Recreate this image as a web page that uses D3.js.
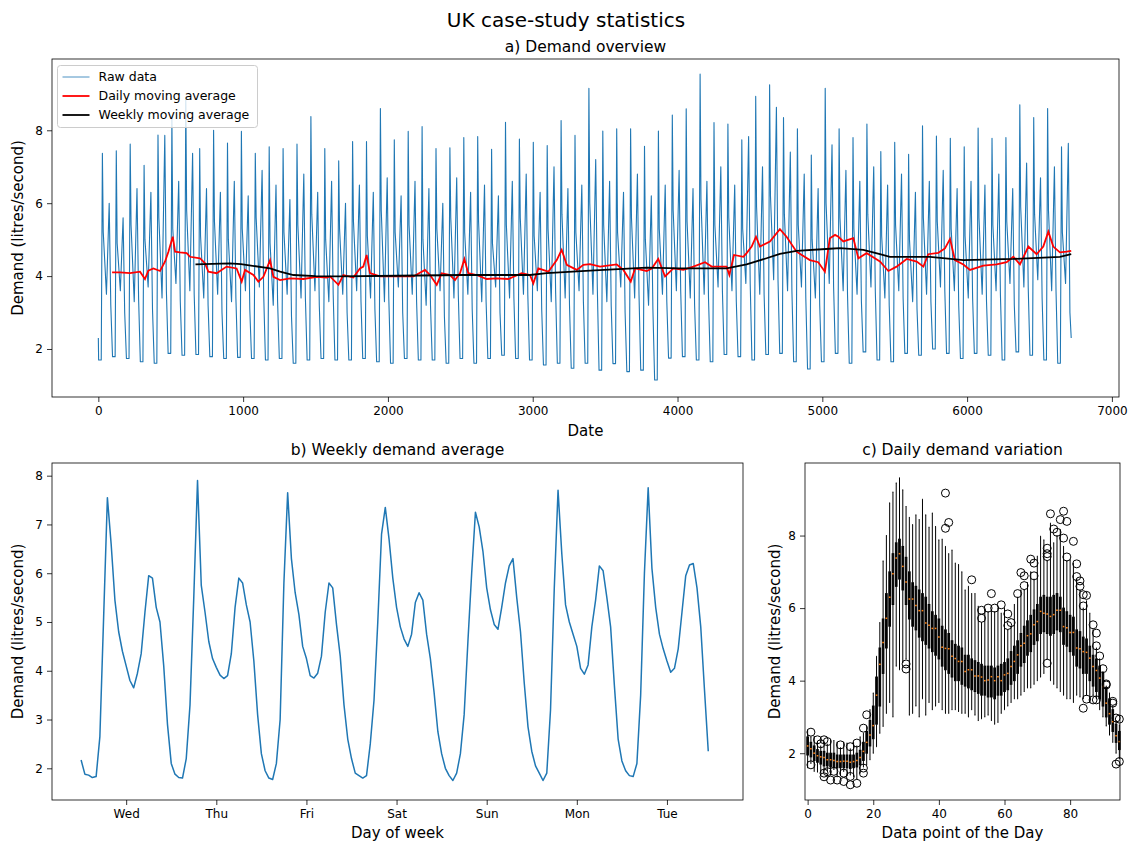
<!DOCTYPE html>
<html>
<head>
<meta charset="utf-8">
<script src="https://cdn.jsdelivr.net/npm/d3@7"></script>
<style>
  body { margin: 0; background: #fff; }
  svg text { font-family: "DejaVu Sans", sans-serif; fill: #000; }
</style>
</head>
<body>
<svg id="canvas" width="1130" height="843"></svg>
<script>
"use strict"

/* ===== a) raw data, one value per day for each feature (70 days, 96 readings per day) ===== */
const morningPeak = [
    7.37, 7.44, 7.62, 7.04, 7.87, 8.38, 8.88, 7.50, 8.00, 7.65,
    7.97, 7.37, 7.55, 7.50, 7.62, 8.38, 7.50, 7.16, 7.69, 7.69,
    8.60, 7.74, 7.97, 8.10, 7.50, 7.52, 7.80, 7.83, 7.48, 8.22,
    7.76, 7.67, 7.58, 8.27, 7.86, 9.15, 7.98, 8.04, 8.04, 7.56,
    7.98, 8.42, 8.59, 9.54, 8.21, 8.17, 7.74, 8.93, 9.25, 8.35,
    8.04, 7.32, 9.15, 8.04, 7.80, 8.17, 7.42, 7.67, 7.34, 8.12,
    7.84, 7.78, 7.55, 8.06, 7.78, 7.80, 8.70, 8.35, 8.60, 7.55];
const morningShoulder = [
    5.2, 4.9, 5.4, 5.0, 5.6, 5.3, 5.8, 5.1, 5.5, 5.0,
    5.3, 5.6, 4.9, 5.2, 5.4, 5.7, 5.0, 5.3, 5.5, 5.1,
    5.8, 5.2, 5.4, 5.0, 5.3, 5.6, 5.2, 5.5, 4.9, 5.4,
    5.6, 5.1, 5.3, 5.7, 5.2, 6.0, 5.4, 5.2, 5.6, 5.0,
    5.3, 5.8, 5.5, 6.1, 5.4, 5.6, 5.3, 5.9, 6.2, 5.7,
    5.4, 5.0, 6.0, 5.6, 5.3, 5.7, 5.1, 5.4, 5.0, 5.6,
    5.5, 5.3, 5.1, 5.6, 5.4, 5.5, 5.9, 5.7, 5.8, 5.2];
const middayLow = [
    3.5, 3.6, 3.3, 3.7, 3.4, 3.8, 3.6, 3.4, 3.5, 3.3,
    3.6, 3.7, 3.2, 3.5, 3.4, 3.6, 3.3, 3.5, 3.6, 3.4,
    3.3, 3.7, 3.5, 3.2, 3.6, 3.4, 3.5, 3.3, 3.7, 3.4,
    3.5, 3.6, 3.3, 3.4, 3.6, 3.5, 3.3, 3.7, 3.4, 3.2,
    3.5, 3.6, 3.4, 3.5, 3.7, 3.6, 3.8, 3.5, 3.9, 3.6,
    3.7, 3.4, 3.8, 3.6, 3.5, 3.7, 3.4, 3.6, 3.3, 3.5,
    3.7, 3.6, 3.4, 3.5, 3.6, 3.8, 3.7, 3.9, 3.6, 3.8];
const eveningPeak = [
    6.0, 5.6, 6.4, 6.3, 7.86, 6.6, 7.37, 6.4, 6.3, 6.6,
    6.2, 6.9, 6.5, 6.1, 6.8, 6.3, 6.6, 6.0, 6.5, 6.3,
    6.7, 6.2, 6.6, 6.4, 6.0, 6.7, 6.3, 6.5, 6.2, 6.6,
    6.8, 6.3, 7.0, 6.4, 6.5, 7.2, 6.6, 6.3, 6.8, 6.2,
    6.5, 6.9, 6.4, 6.6, 7.0, 6.5, 7.83, 7.0, 8.63, 7.4,
    6.8, 6.4, 7.6, 6.9, 6.6, 7.0, 6.5, 6.8, 6.3, 6.6,
    6.9, 6.4, 6.6, 6.5, 6.8, 6.4, 7.1, 6.7, 7.0, 7.64];
const lateEvening = [
    3.2, 3.0, 3.4, 3.1, 3.6, 3.3, 3.5, 3.2, 3.0, 3.4,
    3.1, 3.5, 3.3, 2.9, 3.4, 3.2, 3.5, 3.0, 3.3, 3.1,
    3.4, 3.0, 3.3, 3.2, 2.9, 3.5, 3.1, 3.3, 3.0, 3.4,
    3.5, 3.1, 3.6, 3.2, 3.3, 3.7, 3.2, 3.0, 3.5, 3.1,
    3.3, 3.6, 3.2, 3.4, 3.6, 3.3, 3.8, 3.5, 3.9, 3.6,
    3.4, 3.2, 3.7, 3.5, 3.3, 3.6, 3.2, 3.4, 3.1, 3.3,
    3.6, 3.2, 3.4, 3.3, 3.5, 3.2, 3.7, 3.4, 3.6, 3.0];
const nightLow = [
    1.70, 1.79, 1.74, 1.65, 1.61, 1.88, 1.83, 1.85, 1.79, 1.74,
    1.77, 1.74, 1.70, 1.74, 1.61, 1.70, 1.74, 1.70, 1.70, 1.74,
    1.65, 1.61, 1.74, 1.70, 1.70, 1.61, 1.74, 1.61, 1.74, 1.83,
    1.74, 1.70, 1.56, 1.61, 1.47, 1.61, 1.42, 1.60, 1.38, 1.42,
    1.15, 1.75, 1.79, 1.70, 1.65, 1.85, 1.79, 1.70, 1.85, 1.88,
    1.65, 1.45, 1.65, 1.88, 1.61, 1.92, 1.70, 1.65, 1.88, 1.83,
    2.00, 1.88, 1.74, 1.88, 1.83, 1.70, 1.92, 1.83, 1.70, 1.61];
const rawFirstValue = 2.3;
const rawLastValue = 2.3;

/* moving averages, read at sample positions (index of the reading) */
const dailyAvgIdx = [95, 150, 219, 288, 322, 345, 380, 426, 461, 484, 514, 530, 564, 610, 633, 702, 737, 760, 817, 886,
    955, 990, 1013, 1071, 1105, 1140, 1186, 1209, 1255, 1324, 1416, 1508, 1577, 1600, 1658, 1692, 1761, 1807, 1830, 1853,
    1876, 1945, 2060, 2176, 2256, 2291, 2337, 2371, 2429, 2463, 2498, 2528, 2555, 2612, 2682, 2750, 2831, 2923, 2981, 3004,
    3039, 3108, 3166, 3200, 3235, 3304, 3350, 3396, 3465, 3580, 3626, 3677, 3707, 3787, 3822, 3867, 3914, 3971, 4040, 4109,
    4190, 4236, 4339, 4358, 4390, 4455, 4477, 4512, 4542, 4569, 4638, 4707, 4753, 4822, 4914, 4972, 5018, 5052, 5088, 5111,
    5145, 5214, 5249, 5306, 5398, 5456, 5513, 5583, 5652, 5698, 5732, 5801, 5847, 5882, 5916, 5974, 6020, 6112, 6204, 6273,
    6319, 6365, 6423, 6480, 6526, 6561, 6595, 6641, 6687, 6719];
const dailyAvgVal = [4.10, 4.10, 4.08, 4.12, 3.92, 4.15, 4.21, 4.14, 4.40, 4.67, 5.08, 4.67, 4.65, 4.63, 4.53, 4.49, 4.35, 4.12, 4.08, 4.26,
    4.21, 3.85, 4.17, 4.03, 3.85, 3.98, 4.44, 3.98, 3.89, 3.94, 3.92, 3.98, 3.96, 3.99, 3.76, 4.03, 3.96, 4.21, 4.26, 4.58,
    4.08, 3.99, 3.99, 3.99, 4.17, 4.03, 3.76, 4.08, 4.03, 3.89, 4.08, 4.47, 4.08, 4.03, 3.92, 3.94, 3.92, 4.08, 4.03, 3.80,
    4.21, 4.12, 4.44, 4.72, 4.31, 4.17, 4.31, 4.33, 4.26, 4.32, 4.17, 3.85, 4.21, 4.14, 4.21, 4.47, 3.99, 4.21, 4.17, 4.26,
    4.38, 4.26, 4.26, 4.03, 4.58, 4.53, 4.63, 4.81, 5.08, 4.81, 4.95, 5.29, 5.08, 4.67, 4.44, 4.38, 4.12, 5.04, 5.13, 5.08,
    4.95, 5.04, 4.49, 4.63, 4.40, 4.14, 4.26, 4.47, 4.40, 4.26, 4.60, 4.64, 4.76, 5.02, 4.44, 4.32, 4.17, 4.29, 4.32, 4.38,
    4.53, 4.32, 4.81, 4.60, 4.81, 5.22, 4.81, 4.65, 4.67, 4.69];
const weeklyAvgIdx = [671, 908, 985, 1186, 1255, 1347, 1500, 1669, 2060, 2521, 2981, 3097, 3396, 3787, 4017,
    4339, 4477, 4615, 4707, 4822, 5052, 5122, 5283, 5398, 5467, 5744, 5974, 6319, 6641, 6719];
const weeklyAvgVal = [4.32, 4.35, 4.33, 4.21, 4.12, 4.03, 4.00, 3.99, 4.01, 4.03, 4.03, 4.08, 4.15, 4.23, 4.21,
    4.21, 4.32, 4.49, 4.61, 4.69, 4.75, 4.77, 4.72, 4.60, 4.53, 4.53, 4.44, 4.47, 4.53, 4.60];
const xTicksA = [0, 1000, 2000, 3000, 4000, 5000, 6000, 7000];
const yTicksA = [2, 4, 6, 8];

/* ===== b) weekly demand average, hourly values Wed..Tue ===== */
const weekDays = ["Wed", "Thu", "Fri", "Sat", "Sun", "Mon", "Tue"];
const weeklyProfile = [
    2.17, 1.88, 1.86, 1.81, 1.83, 2.65, 5.10, 7.55, 6.60, 5.45, 4.80, 4.40, 4.10, 3.80, 3.65, 3.95, 4.35, 5.20, 5.95, 5.90, 5.30, 5.00, 4.10, 2.90,
    2.10, 1.88, 1.81, 1.80, 2.20, 3.30, 5.50, 7.90, 5.75, 5.20, 4.60, 4.25, 4.07, 3.91, 3.84, 3.90, 4.35, 5.30, 5.90, 5.80, 5.35, 5.00, 4.20, 3.10,
    2.30, 1.95, 1.80, 1.77, 2.10, 3.00, 5.80, 7.65, 6.30, 5.60, 5.15, 4.50, 4.25, 3.90, 3.85, 3.95, 4.30, 5.20, 5.80, 5.70, 4.95, 4.30, 3.30, 2.60,
    2.20, 1.90, 1.85, 1.80, 1.85, 2.50, 3.40, 5.00, 6.80, 7.35, 6.70, 5.90, 5.30, 4.90, 4.65, 4.50, 4.75, 5.40, 5.60, 5.45, 4.75, 4.25, 3.55, 2.75,
    2.30, 2.00, 1.85, 1.75, 1.90, 2.30, 3.10, 4.60, 6.00, 7.25, 6.95, 6.45, 5.70, 5.25, 4.95, 4.85, 5.30, 5.80, 6.15, 6.30, 5.50, 4.80, 3.75, 2.85,
    2.35, 2.05, 1.90, 1.75, 1.90, 3.20, 5.70, 7.70, 6.40, 5.35, 5.00, 4.75, 4.50, 4.05, 3.93, 4.12, 4.90, 5.45, 6.15, 6.05, 5.50, 4.90, 3.70, 2.60,
    2.15, 1.95, 1.85, 1.83, 2.10, 3.50, 6.00, 7.75, 6.10, 5.30, 4.75, 4.45, 4.20, 3.97, 4.05, 4.45, 5.20, 5.95, 6.17, 6.20, 5.70, 4.90, 3.60, 2.35];
const yTicksB = [2, 3, 4, 5, 6, 7, 8];

/* ===== c) daily demand variation, one box per data point of the day ===== */
const boxMedian = [
    2.20, 2.12, 2.00, 1.93, 1.90, 1.88, 1.82, 1.82, 1.80, 1.77, 1.77, 1.78, 1.78, 1.75, 1.77, 1.80, 1.88, 2.05, 2.30, 2.50,
    2.76, 3.60, 4.45, 5.05, 5.72, 6.30, 6.95, 7.38, 7.50, 7.15, 6.72, 6.25, 6.25, 6.07, 5.93, 5.93, 5.59, 5.53, 5.44, 5.44,
    5.20, 4.92, 4.89, 4.88, 4.67, 4.61, 4.53, 4.53, 4.25, 4.30, 4.30, 4.13, 4.13, 4.10, 4.00, 4.02, 4.11, 4.00, 4.11, 4.00,
    4.16, 4.20, 4.39, 4.53, 4.71, 4.96, 5.03, 5.24, 5.29, 5.54, 5.63, 5.91, 5.86, 5.84, 5.77, 5.82, 5.94, 5.94, 5.49, 5.46,
    5.33, 5.33, 4.90, 4.88, 4.80, 4.78, 4.62, 4.39, 4.28, 4.07, 3.84, 3.38, 3.09, 2.87, 2.48, 2.32];
const boxQ1 = [
    1.95, 1.90, 1.80, 1.75, 1.70, 1.65, 1.65, 1.62, 1.60, 1.60, 1.60, 1.60, 1.60, 1.58, 1.60, 1.62, 1.68, 1.80, 2.00, 2.20,
    2.40, 2.80, 3.30, 4.20, 4.90, 5.50, 6.10, 6.60, 6.80, 6.50, 6.10, 5.70, 5.50, 5.40, 5.20, 5.10, 5.00, 4.90, 4.80, 4.70,
    4.60, 4.40, 4.30, 4.20, 4.10, 4.00, 4.00, 3.90, 3.85, 3.80, 3.75, 3.70, 3.65, 3.60, 3.60, 3.55, 3.55, 3.50, 3.60, 3.60,
    3.70, 3.75, 3.90, 4.00, 4.20, 4.40, 4.50, 4.70, 4.80, 5.00, 5.10, 5.30, 5.35, 5.30, 5.25, 5.30, 5.40, 5.35, 5.00, 4.95,
    4.80, 4.70, 4.40, 4.35, 4.20, 4.20, 4.00, 3.85, 3.70, 3.50, 3.30, 3.00, 2.80, 2.60, 2.30, 2.10];
const boxQ3 = [
    2.45, 2.30, 2.20, 2.10, 2.05, 2.05, 2.00, 2.00, 2.00, 1.95, 1.95, 1.95, 1.95, 1.95, 1.95, 2.00, 2.08, 2.30, 2.60, 2.90,
    3.30, 4.10, 4.90, 5.70, 6.40, 7.00, 7.50, 7.80, 7.90, 7.70, 7.40, 7.00, 6.70, 6.60, 6.50, 6.40, 6.30, 6.10, 5.90, 5.80,
    5.70, 5.50, 5.40, 5.30, 5.10, 5.00, 4.95, 4.90, 4.70, 4.70, 4.60, 4.55, 4.50, 4.45, 4.40, 4.40, 4.40, 4.35, 4.40, 4.45,
    4.50, 4.60, 4.80, 4.95, 5.10, 5.30, 5.50, 5.65, 5.80, 5.95, 6.10, 6.30, 6.35, 6.30, 6.30, 6.35, 6.40, 6.30, 6.00, 5.90,
    5.80, 5.75, 5.40, 5.35, 5.20, 5.15, 4.95, 4.70, 4.60, 4.40, 4.20, 3.80, 3.50, 3.20, 2.80, 2.60];
const boxWhiskerLow = [
    1.60, 1.72, 1.50, 1.48, 1.45, 1.50, 1.52, 1.40, 1.55, 1.35, 1.40, 1.50, 1.38, 1.40, 1.35, 1.30, 1.45, 1.62, 1.68, 1.82,
    2.00, 2.18, 2.55, 2.74, 3.10, 3.40, 3.00, 4.40, 4.30, 4.50, 4.60, 3.05, 3.10, 3.30, 3.00, 3.50, 3.05, 3.40, 3.20, 3.30,
    3.40, 3.20, 3.10, 3.10, 3.20, 3.20, 3.15, 3.10, 3.10, 3.00, 3.20, 3.05, 2.90, 2.95, 3.00, 3.05, 2.90, 2.80, 2.85, 3.10,
    3.20, 3.30, 3.40, 3.50, 3.50, 3.60, 3.70, 3.80, 3.80, 3.90, 4.00, 4.10, 4.20, 4.60, 4.00, 3.90, 3.80, 3.70, 3.60, 3.50,
    3.50, 3.40, 3.60, 3.55, 3.50, 3.60, 3.40, 3.60, 3.50, 3.20, 3.00, 2.75, 2.50, 2.30, 2.00, 1.85];
const boxWhiskerHigh = [
    2.64, 2.45, 2.46, 2.30, 2.20, 2.30, 2.25, 2.37, 2.35, 2.30, 2.15, 2.30, 2.28, 2.12, 2.30, 2.20, 2.45, 2.55, 2.74, 3.20,
    3.66, 4.67, 5.60, 7.30, 8.00, 8.90, 9.20, 9.45, 9.59, 9.26, 8.80, 8.50, 8.30, 8.57, 8.44, 9.00, 8.57, 8.23, 8.62, 8.25,
    7.88, 7.90, 7.70, 7.50, 7.60, 7.24, 7.20, 7.00, 6.50, 6.60, 6.40, 6.40, 6.05, 5.60, 5.95, 5.90, 5.95, 5.90, 6.00, 5.86,
    6.00, 5.40, 5.50, 6.10, 6.30, 6.50, 6.50, 6.70, 7.00, 6.80, 7.43, 7.98, 7.88, 7.30, 8.34, 7.80, 8.00, 8.16, 7.70, 7.30,
    7.33, 7.24, 6.80, 6.50, 6.00, 6.20, 5.86, 5.40, 4.90, 4.60, 4.25, 3.85, 3.66, 3.30, 2.90, 2.78];
const fliers = [
    [1, 2.58], [1, 1.68], [3, 2.37], [4, 2.26], [5, 2.37], [6, 2.32], [5, 1.45], [5, 1.35], [6, 1.49], [7, 1.26],
    [8, 1.50], [10, 2.23], [9, 1.26], [11, 1.45], [11, 1.22], [13, 2.18], [13, 1.36], [13, 1.13], [15, 2.28], [15, 1.17],
    [17, 1.45], [17, 1.59], [17, 2.69], [18, 3.06], [30, 4.46], [30, 4.32], [42, 9.17], [42, 8.20], [43, 8.36], [50, 6.78],
    [53, 5.94], [53, 5.72], [55, 6.00], [56, 6.40], [57, 6.00], [59, 6.09], [61, 5.84], [61, 5.52], [62, 5.60], [64, 6.40],
    [65, 6.98], [66, 6.89], [66, 6.62], [68, 7.35], [69, 7.24], [69, 6.89], [73, 7.65], [73, 7.50], [73, 7.42], [73, 4.48],
    [74, 8.60], [75, 8.18], [76, 8.09], [77, 8.44], [78, 8.67], [78, 7.93], [79, 8.39], [79, 7.41], [81, 7.84], [82, 7.22],
    [82, 6.87], [83, 6.60], [83, 6.75], [84, 6.37], [84, 6.06], [85, 6.35], [84, 3.24], [85, 3.49], [87, 5.54], [88, 5.31],
    [88, 4.96], [87, 3.47], [88, 3.47], [89, 4.68], [90, 4.33], [91, 3.91], [91, 3.88], [93, 3.38], [93, 3.43], [94, 2.97],
    [94, 1.70], [95, 1.77], [95, 2.94]];
const xTicksC = [0, 20, 40, 60, 80];
const yTicksC = [2, 4, 6, 8];

/* ===== layout ===== */
const slotsPerDay = 96;
const slotsPerHour = 4;
// where within a day (reading number) each daily feature sits
const daySlots = { nightA: 2, nightB: 20, morning: 28, shoulder: 34, midday: 56, evening: 75, late: 86 };
const A = { left: 52, top: 59, width: 1067, height: 338 };
const B = { left: 52, top: 463, width: 691, height: 337 };
const C = { left: 805, top: 463, width: 315, height: 337 };
const blue = "#1f77b4";

let drawing = d3.select("#canvas");

// tidy a d3 axis so it looks like matplotlib ticks
function styleAxis(g) {
    g.select(".domain").remove();
    g.selectAll(".tick line").attr("stroke", "#000").attr("stroke-width", 0.8);
    g.selectAll(".tick text")
        .attr("font-size", 12)
        .attr("font-family", "DejaVu Sans, sans-serif")
        .attr("fill", "#000");
}

function frame(g, box) {
    g.append("rect")
        .attr("x", 0).attr("y", 0)
        .attr("width", box.width).attr("height", box.height)
        .attr("fill", "none")
        .attr("stroke", "#000")
        .attr("stroke-width", 0.8);
}

function yLabel(text, cx, cy) {
    drawing.append("text")
        .attr("transform", "translate(" + cx + "," + cy + ") rotate(-90)")
        .attr("text-anchor", "middle")
        .attr("font-size", 15)
        .text(text);
}

function label(text, cx, baseline, size) {
    drawing.append("text")
        .attr("x", cx).attr("y", baseline)
        .attr("text-anchor", "middle")
        .attr("font-size", size)
        .text(text);
}

/* figure title */
label("UK case-study statistics", 566, 27, 20);

/* ========== a) Demand overview ========== */
let panelA = drawing.append("g").attr("transform", "translate(" + A.left + "," + A.top + ")");
let xA = d3.scaleLinear().domain([-320, 7049]).range([0, A.width]);
let yA = d3.scaleLinear().domain([0.683, 9.956]).range([A.height, 0]);

let rawPoints = [[0, rawFirstValue]];
for (let d = 0; d < nightLow.length; d++) {
    let start = d * slotsPerDay;
    rawPoints.push([start + daySlots.nightA, nightLow[d]]);
    rawPoints.push([start + daySlots.nightB, nightLow[d]]);
    rawPoints.push([start + daySlots.morning, morningPeak[d]]);
    rawPoints.push([start + daySlots.shoulder, morningShoulder[d]]);
    rawPoints.push([start + daySlots.midday, middayLow[d]]);
    rawPoints.push([start + daySlots.evening, eveningPeak[d]]);
    rawPoints.push([start + daySlots.late, lateEvening[d]]);
}
rawPoints.push([nightLow.length * slotsPerDay - 1, rawLastValue]);

let lineA = d3.line().x(p => xA(p[0])).y(p => yA(p[1]));

panelA.append("path")
    .attr("d", lineA(rawPoints))
    .attr("fill", "none")
    .attr("stroke", blue)
    .attr("stroke-width", 1.1)
    .attr("stroke-linejoin", "round");

panelA.append("path")
    .attr("d", lineA(d3.zip(dailyAvgIdx, dailyAvgVal)))
    .attr("fill", "none")
    .attr("stroke", "red")
    .attr("stroke-width", 1.8);

panelA.append("path")
    .attr("d", lineA(d3.zip(weeklyAvgIdx, weeklyAvgVal)))
    .attr("fill", "none")
    .attr("stroke", "black")
    .attr("stroke-width", 1.8);

frame(panelA, A);
panelA.append("g").attr("transform", "translate(0," + A.height + ")")
    .call(d3.axisBottom(xA).tickValues(xTicksA).tickFormat(d3.format("d")).tickSize(5).tickPadding(4))
    .call(styleAxis);
panelA.append("g")
    .call(d3.axisLeft(yA).tickValues(yTicksA).tickFormat(d3.format("d")).tickSize(5).tickPadding(4))
    .call(styleAxis);

/* legend */
let legend = panelA.append("g").attr("transform", "translate(5.5,6.5)");
legend.append("rect")
    .attr("width", 200).attr("height", 62).attr("rx", 3)
    .attr("fill", "#fff").attr("fill-opacity", 0.8)
    .attr("stroke", "#ccc").attr("stroke-width", 1);
let legendItems = [
    { name: "Raw data", color: blue, width: 0.8 },
    { name: "Daily moving average", color: "red", width: 1.8 },
    { name: "Weekly moving average", color: "black", width: 1.8 }
];
legendItems.forEach((item, i) => {
    let yy = 11.5 + i * 19;
    legend.append("line")
        .attr("x1", 5).attr("x2", 32).attr("y1", yy).attr("y2", yy)
        .attr("stroke", item.color).attr("stroke-width", item.width);
    legend.append("text")
        .attr("x", 41).attr("y", yy).attr("dy", "0.35em")
        .attr("font-size", 12.5)
        .text(item.name);
});

label("a) Demand overview", A.left + A.width / 2, 52, 15.5);
label("Date", A.left + A.width / 2, 436, 15);
yLabel("Demand (litres/second)", 23, A.top + A.height / 2);

/* ========== b) Weekly demand average ========== */
let panelB = drawing.append("g").attr("transform", "translate(" + B.left + "," + B.top + ")");
let xB = d3.scaleLinear().domain([-31, 705]).range([0, B.width]);
let yB = d3.scaleLinear().domain([1.35, 8.26]).range([B.height, 0]);

panelB.append("path")
    .attr("d", d3.line().x((v, i) => xB(i * slotsPerHour)).y(v => yB(v))(weeklyProfile))
    .attr("fill", "none")
    .attr("stroke", blue)
    .attr("stroke-width", 1.5)
    .attr("stroke-linejoin", "round");

frame(panelB, B);
let dayTicks = weekDays.map((d, i) => i * slotsPerDay + slotsPerDay / 2);
panelB.append("g").attr("transform", "translate(0," + B.height + ")")
    .call(d3.axisBottom(xB).tickValues(dayTicks).tickFormat((d, i) => weekDays[i]).tickSize(5).tickPadding(4))
    .call(styleAxis);
panelB.append("g")
    .call(d3.axisLeft(yB).tickValues(yTicksB).tickFormat(d3.format("d")).tickSize(5).tickPadding(4))
    .call(styleAxis);

label("b) Weekly demand average", B.left + B.width / 2, 455, 15.5);
label("Day of week", B.left + B.width / 2, 838, 15);
yLabel("Demand (litres/second)", 23, B.top + B.height / 2);

/* ========== c) Daily demand variation ========== */
let panelC = drawing.append("g").attr("transform", "translate(" + C.left + "," + C.top + ")");
let xC = d3.scaleLinear().domain([-0.8, 95.2]).range([0, C.width]);
let yC = d3.scaleLinear().domain([0.71, 10.0]).range([C.height, 0]);
let boxHalf = 0.25;
let capHalf = 0.125;

boxMedian.forEach((m, p) => {
    let box = panelC.append("g");
    // whiskers
    box.append("line")
        .attr("x1", xC(p)).attr("x2", xC(p))
        .attr("y1", yC(boxQ3[p])).attr("y2", yC(boxWhiskerHigh[p]))
        .attr("stroke", "#000").attr("stroke-width", 1);
    box.append("line")
        .attr("x1", xC(p)).attr("x2", xC(p))
        .attr("y1", yC(boxQ1[p])).attr("y2", yC(boxWhiskerLow[p]))
        .attr("stroke", "#000").attr("stroke-width", 1);
    // caps
    [boxWhiskerHigh[p], boxWhiskerLow[p]].forEach(v => {
        box.append("line")
            .attr("x1", xC(p - capHalf)).attr("x2", xC(p + capHalf))
            .attr("y1", yC(v)).attr("y2", yC(v))
            .attr("stroke", "#000").attr("stroke-width", 1);
    });
    // box (narrow enough that its outline reads as solid black)
    box.append("rect")
        .attr("x", xC(p - boxHalf))
        .attr("y", yC(boxQ3[p]))
        .attr("width", xC(p + boxHalf) - xC(p - boxHalf))
        .attr("height", yC(boxQ1[p]) - yC(boxQ3[p]))
        .attr("fill", "#000")
        .attr("stroke", "#000").attr("stroke-width", 1);
    // median
    box.append("line")
        .attr("x1", xC(p - boxHalf)).attr("x2", xC(p + boxHalf))
        .attr("y1", yC(m)).attr("y2", yC(m))
        .attr("stroke", "#ff7f0e").attr("stroke-width", 1.5);
});

panelC.selectAll("circle.flier")
    .data(fliers)
    .enter().append("circle")
    .attr("class", "flier")
    .attr("cx", f => xC(f[0]))
    .attr("cy", f => yC(f[1]))
    .attr("r", 4)
    .attr("fill", "none")
    .attr("stroke", "#000")
    .attr("stroke-width", 1);

frame(panelC, C);
panelC.append("g").attr("transform", "translate(0," + C.height + ")")
    .call(d3.axisBottom(xC).tickValues(xTicksC).tickFormat(d3.format("d")).tickSize(5).tickPadding(4))
    .call(styleAxis);
panelC.append("g")
    .call(d3.axisLeft(yC).tickValues(yTicksC).tickFormat(d3.format("d")).tickSize(5).tickPadding(4))
    .call(styleAxis);

label("c) Daily demand variation", C.left + C.width / 2, 455, 15.5);
label("Data point of the Day", C.left + C.width / 2, 838, 15);
yLabel("Demand (litres/second)", 780, C.top + C.height / 2);
</script>
</body>
</html>
